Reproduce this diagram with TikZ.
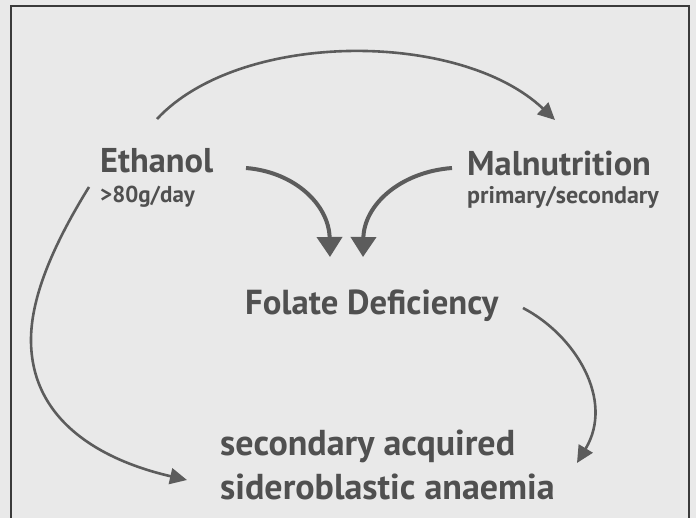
\documentclass[tikz,border=0pt]{standalone}
\usepackage{fontspec}
\setmainfont{PT Sans}
\usetikzlibrary{arrows.meta,calc}
\definecolor{bgc}{HTML}{E9E9E9}
\definecolor{txt}{HTML}{505050}
\definecolor{arc}{HTML}{5C5C5C}
\definecolor{brd}{HTML}{3A3A3A}
\begin{document}
\begin{tikzpicture}[x=1pt,y=-1pt,
  lbl/.style={anchor=base west,inner sep=0pt,text=txt,font=\bfseries},
  big/.style={lbl,font=\fontsize{34.4}{40}\selectfont\bfseries},
  mid/.style={lbl,font=\fontsize{34.7}{40}\selectfont\bfseries},
  low/.style={lbl,font=\fontsize{36}{40}\selectfont\bfseries},
  small/.style={lbl,font=\fontsize{23}{26}\selectfont\bfseries},
  smalltwo/.style={lbl,font=\fontsize{24}{26}\selectfont\bfseries},
  thinarr/.style={draw=arc,line width=2.6pt,-{Triangle[length=17pt,width=16pt]},fill=none},
  thickarr/.style={draw=arc,line width=4pt,-{Triangle[length=20pt,width=25pt]}},
]
\fill[bgc] (0,0) rectangle (696,518);
\useasboundingbox (0,0) rectangle (696,518);
\draw[brd,line width=2pt] (11,6) rectangle (689,540);

\node[big] (eth) at (100,173) {Ethanol};
\node[small] (ethsub) at (100,203) {>80g/day};
\node[big] (mal) at (467,176) {Malnutrition};
\node[smalltwo] (malsub) at (467,204) {primary/secondary};
\node[mid] (fol) at (245,315) {Folate Deficiency};
\node[low] (sec) at (220,455) {secondary acquired};
\node[low] (sid) at (220,499) {sideroblastic anaemia};

% Ethanol -> Malnutrition
\draw[thinarr] ($(eth.base west)+(57,-54)$) .. controls (240,30) and (460,30) .. ($(mal.base west)+(88,-56)$);
% Ethanol -> Folate
\draw[thickarr] ($(eth.base west)+(146,-5)$) .. controls (295,172) and (329,205) .. ($(fol.base west)+(85,-58)$);
% Malnutrition -> Folate
\draw[thickarr] ($(mal.base west)+(-15,-8)$) .. controls (400,172) and (364,205) .. ($(fol.base west)+(118,-58)$);
% Folate -> anaemia
\draw[thinarr] ($(fol.base west)+(278,-7)$) .. controls (575,335) and (615,400) .. ($(sec.base west)+(357,8)$);
% Ethanol -> anaemia
\draw[thinarr] ($(ethsub.base west)+(-11,-16)$) .. controls (50,250) and (31,300) .. (31,340) .. controls (31,420) and (100,460) .. ($(sid.base west)+(-33,-19)$);
\end{tikzpicture}
\end{document}
